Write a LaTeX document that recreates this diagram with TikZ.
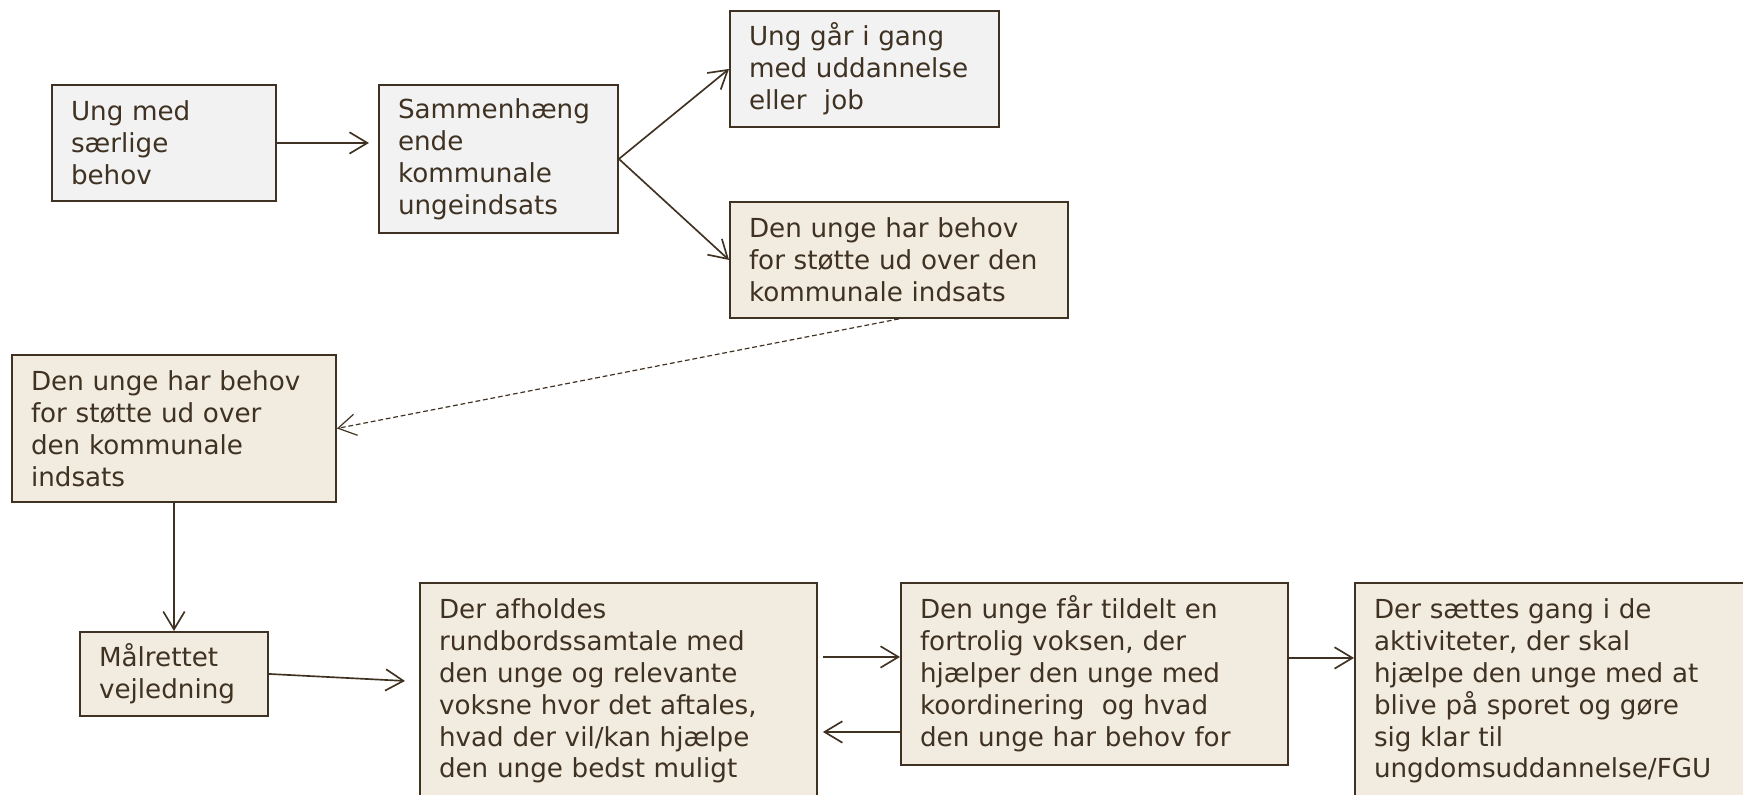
\documentclass[tikz,border=0pt]{standalone}
\usepackage{fontspec}
\setmainfont{DejaVu Sans}
\usepackage{xcolor}
\usepackage{tikz}
\usetikzlibrary{arrows, arrows.meta}
\usetikzlibrary{positioning}
\usetikzlibrary{calc}
\definecolor{ink}{HTML}{3F3222}
\definecolor{boxgrey}{HTML}{F2F2F2}
\definecolor{boxbeige}{HTML}{F2EBE0}

\begin{document}
\begin{tikzpicture}[x=0.42pt, y=-0.42pt,
		every node/.style={rectangle, draw=ink, text=ink, line width=0.8pt, anchor=north west, align=left, inner xsep=8pt, inner ysep=2pt, font=\fontsize{11}{13.4}\selectfont},
		flow/.style={draw=ink, line width=0.7pt, -{Straight Barb[length=7.5pt, width=9pt]}}]
			\useasboundingbox (0,0) rectangle (1743,795);
			\foreach \x/\y/\w/\h/\c/\txt [count = \iBox, evaluate = \w as \iWidth using \w*0.42-16, evaluate = \h as \iHeight using \h*0.42] in {
				51/84/224/116/boxgrey/{Ung med\\særlige\\behov},
				378/84/239/148/boxgrey/{Sammenhæng\\ende\\kommunale\\ungeindsats},
				729/10/269/116/boxgrey/{Ung går i gang\\med uddannelse\\eller \ job},
				729/201/338/116/boxbeige/{Den unge har behov\\for støtte ud over den\\kommunale indsats},
				11/354/324/147/boxbeige/{Den unge har behov\\for støtte ud over\\den kommunale\\indsats},
				79/631/188/84/boxbeige/{Målrettet\\vejledning},
				419/582/397/216/boxbeige/{Der afholdes\\rundbordssamtale med\\den unge og relevante\\voksne hvor det aftales,\\hvad der vil/kan hjælpe\\den unge bedst muligt},
				900/582/387/182/boxbeige/{Den unge får tildelt en\\fortrolig voksen, der\\hjælper den unge med\\koordinering \ og hvad\\den unge har behov for},
				1354/582/392/216/boxbeige/{Der sættes gang i de\\aktiviteter, der skal\\hjælpe den unge med at\\blive på sporet og gøre\\sig klar til\\ungdomsuddannelse/FGU}}
			{
				\node[fill=\c, text width=\iWidth pt, minimum height=\iHeight pt](\iBox) at (\x,\y){\txt};
			}
			\draw[flow, shorten >=3.8pt] (1.east) -- (1.east -| 2.west);
			\draw[flow] (2.east) -- (3.west);
			\draw[flow] (2.east) -- (4.west);
			\draw[flow, line width=0.5pt, dash pattern=on 2pt off 1.2pt] (4.south) -- (5.east);
			\draw[flow] (5.south) -- (6.north);
			\draw[flow] (6.east) -- ([shift={(-14,-10)}]7.west);
			\draw[flow] ([shift={(5,-34)}]7.east) -- ([shift={(0,-17)}]8.west);
			\draw[flow] ([shift={(0,58)}]8.west) -- ([shift={(5,41)}]7.east);
			\draw[flow] ([shift={(0,-16)}]8.east) -- ([shift={(0,-33)}]9.west);
		\end{tikzpicture}
\end{document}
